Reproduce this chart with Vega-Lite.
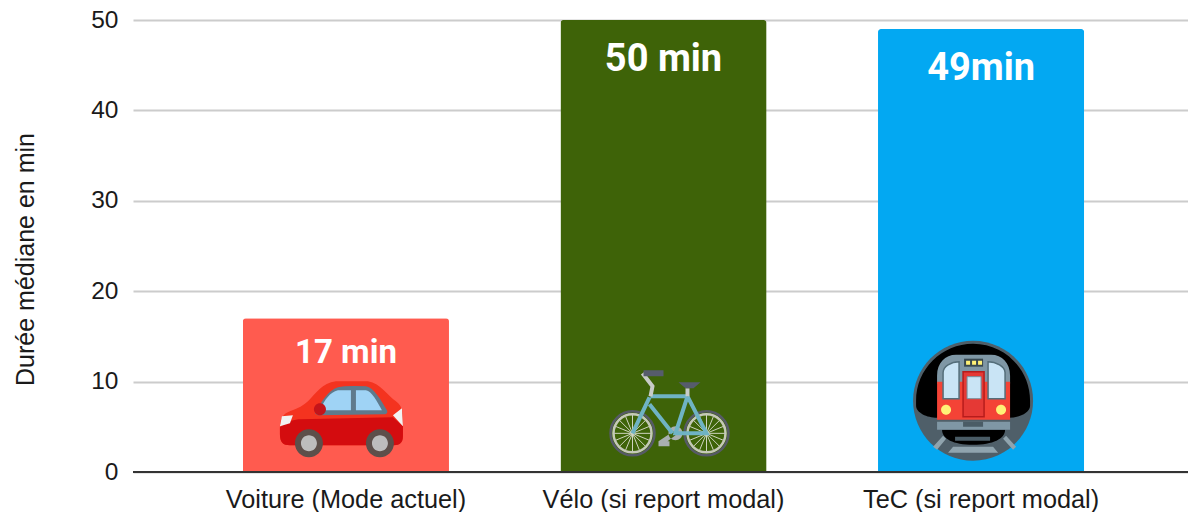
{"$schema":"https://vega.github.io/schema/vega-lite/v6.json","width":1055,"height":452,"autosize":"none","padding":{"left":133,"top":20,"right":0,"bottom":40},"background":"white","config":{"view":{"stroke":null},"point":{"opacity":1}},
"data":{"values":[{"mode":"Voiture (Mode actuel)","duree":17,"etiquette":"17 min"},{"mode":"Vélo (si report modal)","duree":50,"etiquette":"50 min"},{"mode":"TeC (si report modal)","duree":49,"etiquette":"49min"}]},
"encoding":{"x":{"field":"mode","type":"nominal","sort":null,"scale":{"domain":["Voiture (Mode actuel)","Vélo (si report modal)","TeC (si report modal)"],"range":[0,1061],"paddingInner":0.351,"paddingOuter":0.346},"axis":{"title":null,"domain":false,"ticks":false,"labelAngle":0,"labelFont":"Liberation Sans","labelFontSize":25.3,"labelColor":"#1a1a1a","labelPadding":15,"labelLimit":500,"labelOverlap":false}}},
"layer":[
{"mark":{"type":"bar","cornerRadiusTopLeft":3,"cornerRadiusTopRight":3},"encoding":{"y":{"field":"duree","type":"quantitative","title":"Durée médiane en min","scale":{"domain":[0,50],"nice":false},"axis":{"titleFont":"Liberation Sans","titleFontSize":25,"titleFontWeight":"normal","titleColor":"#1a1a1a","titlePadding":52,"titleY":239,"values":[0,10,20,30,40,50],"domain":false,"ticks":false,"labelFont":"Liberation Sans","labelFontSize":24.5,"labelColor":"#1a1a1a","labelPadding":15,"grid":true,"gridColor":"#cccccc","gridWidth":2}},"color":{"field":"mode","type":"nominal","legend":null,"scale":{"domain":["Voiture (Mode actuel)","Vélo (si report modal)","TeC (si report modal)"],"range":["#ff5b4f","#3e6308","#03a8f2"]}}}},
{"mark":{"type":"rule","color":"#333333","strokeWidth":2},"encoding":{"x":{"value":0},"x2":{"value":1055},"y":{"datum":0,"type":"quantitative","title":"Durée médiane en min"}}},
{"transform":[{"filter":"datum.duree < 20"}],"mark":{"type":"text","font":"Roboto","fontWeight":"bold","fontSize":33,"color":"white","dy":35},"encoding":{"y":{"field":"duree","type":"quantitative","title":"Durée médiane en min"},"text":{"field":"etiquette"}}},
{"transform":[{"filter":"datum.duree >= 20"}],"mark":{"type":"text","font":"Roboto","fontWeight":"bold","fontSize":38,"color":"white","dy":40},"encoding":{"y":{"field":"duree","type":"quantitative","title":"Durée médiane en min"},"text":{"field":"etiquette"}}},
{"data":{"values":[{"mode":"Voiture (Mode actuel)","hauteur_icone":5.94}]},"encoding":{"y":{"field":"hauteur_icone","type":"quantitative","title":"Durée médiane en min"}},"layer":[
{"mark":{"type":"point","filled":true,"size":4,"opacity":1,"color":"#f4331f","shape":"M-66 8 C-66 0 -62 -5 -56 -7 C-48 -10 -42 -13 -38 -17 C-30 -25 -24 -35 -10 -37 L22 -37 C35 -35 42 -22 50 -17 C54 -14 57 -10 57 -2 L57 18 C57 24 54 27 48 27 L-56 27 C-63 27 -66 24 -66 16 Z"}},
{"mark":{"type":"point","filled":true,"size":4,"opacity":1,"color":"#d40c0f","shape":"M-66 9 C-58 3 -52 1 -45 1 L47 -1 L57 8 L57 18 C57 24 54 27 48 27 L-56 27 C-63 27 -66 24 -66 16 Z"}},
{"mark":{"type":"point","filled":true,"size":4,"opacity":1,"color":"#5f7a8c","shape":"M-31 -5 C-24 -17 -18 -28 -8 -31 Q0 -33 20 -32 C28 -31 35 -18 41 -8 C42 -6 41 -4 38 -4 L-28 -3 Z"}},
{"mark":{"type":"point","filled":true,"size":4,"opacity":1,"color":"#9fd3f5","shape":"M-26 -8 C-21 -19 -16 -26 -8 -28 L5 -28 L5 -8 Z M10 -28 L20 -28 C26 -27 31 -17 36 -8 L10 -8 Z"}},
{"mark":{"type":"point","filled":true,"size":4,"opacity":1,"color":"#c4141a","shape":"M-32 -9 a6 6 0 1 0 12 0 a6 6 0 1 0 -12 0 Z"}},
{"mark":{"type":"point","filled":true,"size":4,"opacity":1,"color":"#5d4f4a","shape":"M-51 25 a14 14 0 1 0 28 0 a14 14 0 1 0 -28 0 Z M20 25 a14 14 0 1 0 28 0 a14 14 0 1 0 -28 0 Z"}},
{"mark":{"type":"point","filled":true,"size":4,"opacity":1,"color":"#bdbdbd","shape":"M-45 25 a8 8 0 1 0 16 0 a8 8 0 1 0 -16 0 Z M26 25 a8 8 0 1 0 16 0 a8 8 0 1 0 -16 0 Z"}},
{"mark":{"type":"point","filled":true,"size":4,"opacity":1,"color":"#f2f2f2","shape":"M-66 8 L-64 -2 L-53 -3 L-56 5 Z M56 -10 L47 -3 L57 8 Z"}}
]},
{"data":{"values":[{"mode":"Vélo (si report modal)","hauteur_icone":6.49}]},"encoding":{"y":{"field":"hauteur_icone","type":"quantitative","title":"Durée médiane en min"}},"layer":[
{"mark":{"type":"point","filled":false,"size":4,"opacity":1,"stroke":"#cfd4c0","strokeWidth":1,"shape":"M-31 1 L-31 39 M-50 20 L-12 20 M-44 7 L-18 33 M-44 33 L-18 7 M-38 3 L-24 37 M-24 3 L-38 37 M-48 13 L-14 27 M-48 27 L-14 13 M43 1 L43 39 M24 20 L62 20 M30 7 L56 33 M30 33 L56 7 M36 3 L50 37 M50 3 L36 37 M26 13 L60 27 M26 27 L60 13"}},
{"mark":{"type":"point","filled":false,"size":4,"opacity":1,"stroke":"#c5c9b8","strokeWidth":2.5,"shape":"M-50 20 a19 19 0 1 0 38 0 a19 19 0 1 0 -38 0 Z M24 20 a19 19 0 1 0 38 0 a19 19 0 1 0 -38 0 Z"}},
{"mark":{"type":"point","filled":false,"size":4,"opacity":1,"stroke":"#565a66","strokeWidth":2.5,"shape":"M-53 20 a22 22 0 1 0 44 0 a22 22 0 1 0 -44 0 Z M21 20 a22 22 0 1 0 44 0 a22 22 0 1 0 -44 0 Z"}},
{"mark":{"type":"point","filled":true,"size":4,"opacity":1,"color":"#a9b0b0","shape":"M5 20 a7 7 0 1 0 14 0 a7 7 0 1 0 -14 0 Z M-5 28 L10 18 L12 22 L4 28 L6 28 L6 33 L-5 33 Z"}},
{"mark":{"type":"point","filled":false,"size":4,"opacity":1,"stroke":"#6fb3c4","strokeWidth":4,"shape":"M-13 -17 L24 -17 M-14 -16 L-31 20 M-14 -9 L9 20 M24 -17 L12 20 L43 20 L24 -17"}},
{"mark":{"type":"point","filled":false,"size":4,"opacity":1,"stroke":"#c8ccc8","strokeWidth":4,"shape":"M-21 -40 L-11 -27 L-13 -17 M24 -25 L24 -17"}},
{"mark":{"type":"point","filled":true,"size":4,"opacity":1,"color":"#565c6c","shape":"M-20 -43 L0 -43 L0 -37 L-20 -37 Z M15 -31 L37 -31 L30 -25 L22 -25 Z"}}
]},
{"data":{"values":[{"mode":"TeC (si report modal)","hauteur_icone":7.89}]},"encoding":{"y":{"field":"hauteur_icone","type":"quantitative","title":"Durée médiane en min"}},"layer":[
{"mark":{"type":"point","filled":true,"size":4,"opacity":1,"color":"#4f5f69","shape":"M-68 0 a60 60 0 1 0 120 0 a60 60 0 1 0 -120 0 Z"}},
{"mark":{"type":"point","filled":true,"size":4,"opacity":1,"color":"#000000","shape":"M-65 0 A57 57 0 0 1 49 0 L49 5 C49 12 38 17 28 17 L-44 17 C-54 17 -65 12 -65 5 Z M-39 29 L24 29 C24 38 12 44 -8 44 C-28 44 -39 38 -39 29 Z"}},
{"mark":{"type":"point","filled":true,"size":4,"opacity":1,"color":"#90a4ae","shape":"M-33 52 L17 52 L12 46 L-28 46 Z M-48 46 L-38 35 L-35 38 L-44 49 Z M32 49 L22 38 L25 35 L35 46 Z"}},
{"mark":{"type":"point","filled":true,"size":4,"opacity":1,"color":"#7f97a5","shape":"M-44 -17 L-44 -25 C-44 -38 -36 -46 -25 -46 L10 -46 C21 -46 29 -38 29 -25 L29 -17 Z M-44 21 L29 21 L29 29 L-44 29 Z"}},
{"mark":{"type":"point","filled":true,"size":4,"opacity":1,"color":"#f44336","shape":"M-44 -19 L29 -19 L29 19 L-44 19 Z"}},
{"mark":{"type":"point","filled":true,"size":4,"opacity":1,"color":"#c9e4f5","stroke":"#546e7a","strokeWidth":1.5,"shape":"M-38 -2 L-38 -28 C-38 -34 -30 -39 -22 -39 L-22 -2 Z M7 -2 L7 -39 C15 -39 24 -34 24 -28 L24 -2 Z"}},
{"mark":{"type":"point","filled":true,"size":4,"opacity":1,"color":"#e53935","stroke":"#b71c1c","strokeWidth":1.5,"shape":"M-18 -29 L3 -29 L3 16 L-18 16 Z"}},
{"mark":{"type":"point","filled":true,"size":4,"opacity":1,"color":"#c9e4f5","stroke":"#78909c","strokeWidth":1,"shape":"M-14 -24 L0 -24 L0 -2 L-14 -2 Z"}},
{"mark":{"type":"point","filled":true,"size":4,"opacity":1,"color":"#37474f","shape":"M-17 -42 L2 -42 L2 -34 L-17 -34 Z"}},
{"mark":{"type":"point","filled":true,"size":4,"opacity":1,"color":"#fff176","shape":"M-40 9 a5 5 0 1 0 10 0 a5 5 0 1 0 -10 0 Z M15 9 a5 5 0 1 0 10 0 a5 5 0 1 0 -10 0 Z M-15 -40 L-11 -40 L-11 -36 L-15 -36 Z M-9 -40 L-5 -40 L-5 -36 L-9 -36 Z M-3 -40 L1 -40 L1 -36 L-3 -36 Z"}},
{"mark":{"type":"point","filled":true,"size":4,"opacity":1,"color":"#4a5c66","shape":"M-18 21 L2 21 L2 26 L-18 26 Z M-26 36 L9 36 L9 40 L-26 40 Z"}}
]}
]}
